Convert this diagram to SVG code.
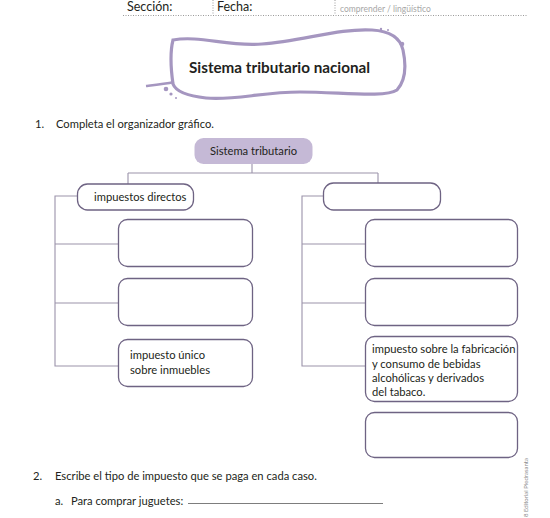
<svg xmlns="http://www.w3.org/2000/svg" width="550" height="518" viewBox="0 0 550 518">
<style>
.t{font-family:Lato,"Open Sans","Liberation Sans",sans-serif;font-size:11.2px;fill:#231f20}
.box{fill:#fff;stroke:#6e6383;stroke-width:1.3}
.con{fill:none;stroke:#9b93aa;stroke-width:1.1}
.hdr{font-family:Lato,"Liberation Sans",sans-serif;font-size:12.5px;fill:#231f20}
.dot{stroke:#9a9a9a;stroke-width:1;stroke-dasharray:1 1.5;fill:none}
</style>
<rect width="550" height="518" fill="#fff"/>
<g id="header">
<text class="hdr" x="127" y="11">Sección:</text>
<text class="hdr" x="217" y="11">Fecha:</text>
<text x="340" y="12" style="font-family:Lato,'Liberation Sans',sans-serif;font-size:8.5px;fill:#a8a8a8">comprender  / lingüístico</text>
<line class="dot" x1="123" y1="15.5" x2="528" y2="15.5"/>
<line class="dot" x1="213" y1="0" x2="213" y2="15"/>
<line class="dot" x1="335" y1="0" x2="335" y2="15"/>
</g>
<g id="title">
<path d="M173,40 C200,35 228,47 262,44 C302,41 340,28 372,30 C390,31 400,37 403,50 C406,64 406,80 397,90 C385,98 340,92 300,92 C262,92 232,101 206,98 C188,96 176,92 173,84 C171,70 170,52 173,40 Z" fill="none" stroke="#a596c0" stroke-width="3.2"/>
<path d="M174,82 C165,84 155,85 146,86" fill="none" stroke="#a596c0" stroke-width="2.5"/>
<circle cx="166" cy="89" r="2.3" fill="#a596c0"/>
<circle cx="171" cy="94" r="1.6" fill="#a596c0"/>
<circle cx="176" cy="98" r="1" fill="#a596c0"/>
<circle cx="402" cy="44" r="2.3" fill="#a596c0"/>
<circle cx="381" cy="29" r="1.2" fill="#a596c0"/>
<circle cx="388" cy="30" r="1" fill="#a596c0"/>
<text x="279.5" y="73" text-anchor="middle" textLength="181" lengthAdjust="spacingAndGlyphs" style="font-family:Lato,'Liberation Sans',sans-serif;font-weight:bold;font-size:15px;fill:#231f20">Sistema tributario nacional</text>
</g>
<g id="q1">
<text class="t" x="35" y="128">1.</text>
<text class="t" x="56" y="128">Completa el organizador gráfico.</text>
</g>
<g id="connectors">
<path class="con" d="M252,164 V173 M128,173 H378 M128,173 V184 M378,173 V183"/>
<path class="con" d="M77,196 H55 V366 H118 M55,244 H118 M55,303 H118"/>
<path class="con" d="M323,196 H302 V366 H365 M302,244 H365 M302,303 H365"/>
</g>
<g id="root">
<rect x="194.5" y="138" width="118" height="26" rx="9" fill="#c5b9d6"/>
<text class="t" x="253.5" y="155" text-anchor="middle">Sistema tributario</text>
</g>
<g id="directos">
<rect class="box" x="77.5" y="184" width="116" height="26" rx="10"/>
<text class="t" x="94" y="201">impuestos directos</text>
</g>
<g id="indirectos">
<rect class="box" x="323.5" y="183" width="117" height="27" rx="10"/>
</g>
<g id="d1"><rect class="box" x="118.5" y="219.5" width="134" height="47" rx="9"/></g>
<g id="d2"><rect class="box" x="118.5" y="278.5" width="134" height="47" rx="9"/></g>
<g id="d3">
<rect class="box" x="118.5" y="339.5" width="134" height="47" rx="9"/>
<text class="t" x="130" y="359">impuesto único</text>
<text class="t" x="130" y="374">sobre inmuebles</text>
</g>
<g id="i1"><rect class="box" x="365.5" y="219.5" width="152" height="47" rx="9"/></g>
<g id="i2"><rect class="box" x="365.5" y="278.5" width="152" height="47" rx="9"/></g>
<g id="i3">
<rect class="box" x="365.5" y="336.5" width="152" height="65" rx="9"/>
<text class="t" x="372" y="353">impuesto sobre la fabricación</text>
<text class="t" x="372" y="368">y consumo de bebidas</text>
<text class="t" x="372" y="382">alcohólicas y derivados</text>
<text class="t" x="372" y="396">del tabaco.</text>
</g>
<g id="i4"><rect class="box" x="365.5" y="412.5" width="152" height="45" rx="9"/></g>
<g id="q2">
<text class="t" x="33" y="480">2.</text>
<text class="t" x="55" y="480">Escribe el tipo de impuesto que se paga en cada caso.</text>
<text class="t" x="55" y="505">a.</text>
<text class="t" x="71" y="505">Para comprar juguetes:</text>
<line x1="188" y1="503.5" x2="383" y2="503.5" stroke="#6e6e6e" stroke-width="0.9"/>
</g>
<text transform="translate(528,517) rotate(-90)" style="font-family:Lato,'Liberation Sans',sans-serif;font-size:6px;fill:#8a8a8a">8 Editorial Piedrasanta</text>
</svg>
